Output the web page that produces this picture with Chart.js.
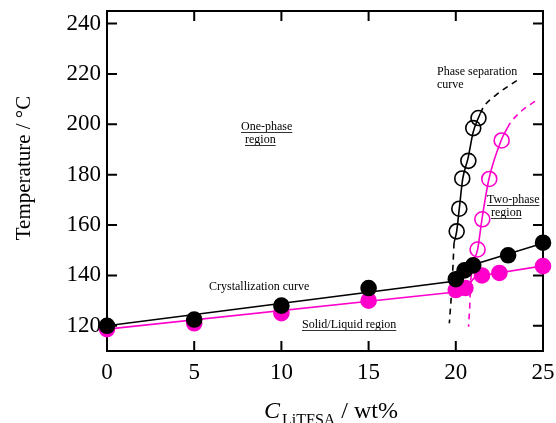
<!DOCTYPE html>
<html>
<head>
<meta charset="utf-8">
<script src="https://cdn.jsdelivr.net/npm/chart.js@4.4.1/dist/chart.umd.min.js"></script>
<style>
  html, body { margin: 0; padding: 0; background: #fff; }
  #wrap { width: 556px; height: 423px; }
</style>
</head>
<body>
<div id="wrap"><canvas id="phaseChart"></canvas></div>
<script>
// measured points
const crystX = [0, 5, 10, 15, 20, 20.5, 21, 23, 25];
const crystT = [120, 122.5, 128, 135, 138.5, 142, 144, 148, 153];
const solidX = [0, 5, 10, 15, 20, 20.55, 21.5, 22.5, 25];
const solidT = [118.7, 121, 125, 130, 134.2, 135, 140, 141, 143.7];
const sepX = [20.05, 20.2, 20.37, 20.72, 21.0, 21.3];
const sepT = [157.5, 166.5, 178.5, 185.5, 198.5, 202.5];
const twoX = [21.25, 21.52, 21.92, 22.63];
const twoT = [150.3, 162.3, 178.3, 193.6];

// guide lines drawn through the data
const crystLineX = [0, 20, 21, 25];
const crystLineT = [120, 137.8, 144.3, 152.8];
const solidLineX = [0, 20, 20.6, 21.1, 25];
const solidLineT = [118.7, 133.4, 135, 139.5, 143.8];
const sepSolidX = [19.9, 20.05, 20.2, 20.4, 20.7, 21.0, 21.4];
const sepSolidT = [153, 157.5, 166.5, 178.5, 186.5, 197, 204.3];
const sepUpperX = [21.4, 21.6, 22.3, 23.7];
const sepUpperT = [204.3, 207, 211.6, 218.3];
const sepLowerX = [19.9, 19.78, 19.63];
const sepLowerT = [153, 136, 121];
const twoSolidX = [20.85, 21.0, 21.25, 21.5, 21.9, 22.6, 22.95];
const twoSolidT = [138, 145, 150.3, 162.3, 178.3, 193.6, 198.5];
const twoUpperX = [22.95, 23.1, 23.8, 24.65];
const twoUpperT = [198.5, 200.3, 205.5, 209.6];
const twoLowerX = [20.85, 20.8, 20.73];
const twoLowerT = [138, 128, 119.6];

const xTicks = [0, 5, 10, 15, 20, 25];
const yTicks = [120, 140, 160, 180, 200, 220, 240];

const BLACK = '#000000';
const PINK = '#ff00cc';
const SERIF = '"Liberation Serif", "DejaVu Serif", serif';

function pts(xs, ys) {
    return xs.map((x, i) => ({ x: x, y: ys[i] }));
}

function curve(xs, ys, color, dashed, smooth) {
    return {
        data: pts(xs, ys),
        showLine: true,
        borderColor: color,
        borderWidth: 1.6,
        borderDash: dashed ? [6, 5] : [],
        pointRadius: 0,
        tension: 0,
        cubicInterpolationMode: smooth ? 'monotone' : 'default',
        fill: false,
        order: 2
    };
}

function markers(xs, ys, color, filled) {
    return {
        data: pts(xs, ys),
        showLine: false,
        pointRadius: 7.5,
        pointBorderWidth: 1.6,
        pointBorderColor: color,
        pointBackgroundColor: filled ? color : 'rgba(0,0,0,0)',
        clip: false,
        order: 1
    };
}

// frame with inward ticks on all four sides
const framePlugin = {
    id: 'frame',
    beforeDatasetsDraw(chart) {
        const { ctx, chartArea: a, scales } = chart;
        ctx.save();
        ctx.strokeStyle = BLACK;
        ctx.lineWidth = 2;
        ctx.strokeRect(a.left, a.top, a.right - a.left, a.bottom - a.top);
        const len = 10;
        ctx.beginPath();
        xTicks.forEach(v => {
            const px = scales.x.getPixelForValue(v);
            ctx.moveTo(px, a.bottom); ctx.lineTo(px, a.bottom - len);
            ctx.moveTo(px, a.top); ctx.lineTo(px, a.top + len);
        });
        yTicks.forEach(v => {
            const py = scales.y.getPixelForValue(v);
            ctx.moveTo(a.left, py); ctx.lineTo(a.left + len, py);
            ctx.moveTo(a.right, py); ctx.lineTo(a.right - len, py);
        });
        ctx.stroke();
        ctx.restore();
    }
};

function label(ctx, text, x, y, underline) {
    ctx.fillText(text, x, y);
    if (underline) {
        const w = ctx.measureText(text).width;
        ctx.beginPath();
        ctx.moveTo(x, y + 2.5);
        ctx.lineTo(x + w, y + 2.5);
        ctx.stroke();
    }
}

const textPlugin = {
    id: 'texts',
    afterDraw(chart) {
        const { ctx } = chart;
        ctx.save();
        ctx.fillStyle = BLACK;
        ctx.strokeStyle = '#333';
        ctx.lineWidth = 1;
        ctx.textBaseline = 'alphabetic';
        ctx.textAlign = 'left';
        ctx.font = '12px ' + SERIF;
        label(ctx, 'One-phase', 241, 130, true);
        label(ctx, 'region', 245, 143, true);
        label(ctx, 'Two-phase', 487, 203, true);
        label(ctx, 'region', 491, 216, true);
        label(ctx, 'Phase separation', 437, 75, false);
        label(ctx, 'curve', 437, 88, false);
        label(ctx, 'Crystallization curve', 209, 290, false);
        label(ctx, 'Solid/Liquid region', 302, 328, true);

        // y axis title
        ctx.save();
        ctx.translate(30, 168);
        ctx.rotate(-Math.PI / 2);
        ctx.textAlign = 'center';
        ctx.font = '21px ' + SERIF;
        ctx.fillText('Temperature / \u00b0C', 0, 0);
        ctx.restore();

        // x axis title: C_LiTFSA / wt%
        const mainFont = '24px ' + SERIF;
        const cFont = 'italic 24px ' + SERIF;
        const subFont = '16px ' + SERIF;
        ctx.font = cFont; const wC = ctx.measureText('C').width;
        ctx.font = subFont; const wS = ctx.measureText('LiTFSA').width;
        ctx.font = mainFont; const wR = ctx.measureText(' / wt%').width;
        let x = 331 - (wC + 2 + wS + wR) / 2;
        const base = 418;
        ctx.font = cFont; ctx.fillText('C', x, base); x += wC + 2;
        ctx.font = subFont; ctx.fillText('LiTFSA', x, base + 7); x += wS;
        ctx.font = mainFont; ctx.fillText(' / wt%', x, base);
        ctx.restore();
    }
};

new Chart(document.getElementById('phaseChart'), {
    type: 'scatter',
    data: {
        datasets: [
            curve(crystLineX, crystLineT, BLACK, false, false),
            curve(solidLineX, solidLineT, PINK, false, false),
            curve(sepSolidX, sepSolidT, BLACK, false, true),
            curve(sepUpperX, sepUpperT, BLACK, true, true),
            curve(sepLowerX, sepLowerT, BLACK, true, true),
            curve(twoSolidX, twoSolidT, PINK, false, true),
            curve(twoUpperX, twoUpperT, PINK, true, true),
            curve(twoLowerX, twoLowerT, PINK, true, true),
            markers(sepX, sepT, BLACK, false),
            markers(twoX, twoT, PINK, false),
            markers(crystX, crystT, BLACK, true),
            markers(solidX, solidT, PINK, true)
        ]
    },
    options: {
        responsive: true,
        maintainAspectRatio: false,
        animation: false,
        layout: { padding: { top: 11, right: 13, left: 0, bottom: 0 } },
        plugins: {
            legend: { display: false },
            tooltip: { enabled: false }
        },
        scales: {
            x: {
                type: 'linear',
                min: 0,
                max: 25,
                afterBuildTicks: s => { s.ticks = xTicks.map(v => ({ value: v })); },
                afterFit: s => { s.height = 72; s.paddingLeft = 0; s.paddingRight = 0; },
                grid: { display: false, drawTicks: false },
                border: { display: false },
                ticks: {
                    color: BLACK,
                    padding: 8,
                    font: { family: SERIF, size: 23 }
                }
            },
            y: {
                type: 'linear',
                min: 110,
                max: 245,
                afterBuildTicks: s => { s.ticks = yTicks.map(v => ({ value: v })); },
                afterFit: s => { s.width = 107; s.paddingTop = 0; s.paddingBottom = 0; },
                grid: { display: false, drawTicks: false },
                border: { display: false },
                ticks: {
                    color: BLACK,
                    padding: 6,
                    font: { family: SERIF, size: 23 }
                }
            }
        }
    },
    plugins: [framePlugin, textPlugin]
});
</script>
</body>
</html>
